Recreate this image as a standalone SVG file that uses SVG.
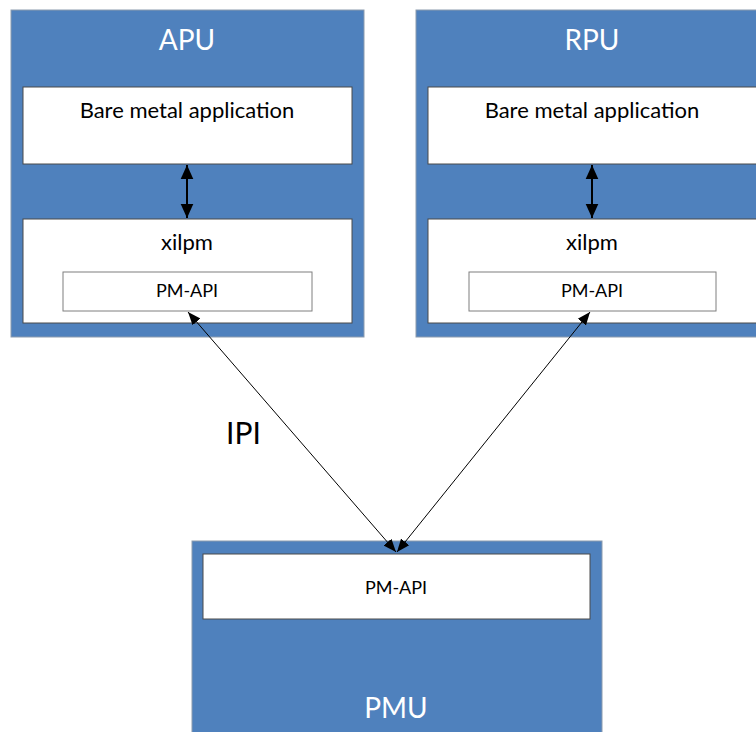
<svg xmlns="http://www.w3.org/2000/svg" width="756" height="732" viewBox="0 0 756 732">
<style>
.outer{fill:#4F81BD;stroke:#8C9BAE;stroke-width:1}
.inner{fill:#FFFFFF;stroke:#4A4A4A;stroke-width:1}
.api{fill:#FFFFFF;stroke:#7F7F7F;stroke-width:1}
.title{font-family:Lato,"Liberation Sans",sans-serif;font-size:28px;fill:#FFFFFF;text-anchor:middle}
.lbl{font-family:Lato,"Liberation Sans",sans-serif;font-size:22px;fill:#000000;text-anchor:middle}
.sm{font-family:Lato,"Liberation Sans",sans-serif;font-size:18px;fill:#000000;text-anchor:middle}
.ipi{font-family:Lato,"Liberation Sans",sans-serif;font-size:30px;fill:#000000}
.conn{stroke:#000000;stroke-width:1;fill:none}
.thick{stroke:#000000;stroke-width:2;fill:none}
</style>
<defs>
<marker id="ah" viewBox="0 0 10 10" refX="10" refY="5" markerWidth="13" markerHeight="13" markerUnits="userSpaceOnUse" orient="auto-start-reverse">
<path d="M0,1 L10,5 L0,9 z" fill="#000000"/>
</marker>
<marker id="ahb" viewBox="0 0 10 10" refX="10" refY="5" markerWidth="14" markerHeight="14" markerUnits="userSpaceOnUse" orient="auto-start-reverse">
<path d="M0,0.5 L10,5 L0,9.5 z" fill="#000000"/>
</marker>
</defs>
<g id="apu">
<rect class="outer" x="11" y="10" width="353" height="327"/>
<text class="title" x="187" y="50">APU</text>
<rect class="inner" x="23" y="87" width="329" height="77"/>
<text class="lbl" x="187" y="118">Bare metal application</text>
<rect class="inner" x="23" y="219" width="329" height="104"/>
<text class="lbl" x="187" y="250">xilpm</text>
<rect class="api" x="63" y="272" width="249" height="39"/>
<text class="sm" x="187" y="297">PM-API</text>
</g>
<g id="rpu">
<rect class="outer" x="416" y="10" width="353" height="327"/>
<text class="title" x="592" y="50">RPU</text>
<rect class="inner" x="428" y="87" width="329" height="77"/>
<text class="lbl" x="592" y="118">Bare metal application</text>
<rect class="inner" x="428" y="219" width="329" height="104"/>
<text class="lbl" x="592" y="250">xilpm</text>
<rect class="api" x="469" y="272" width="247" height="39"/>
<text class="sm" x="592" y="297">PM-API</text>
</g>
<g id="pmu">
<rect class="outer" x="192" y="541" width="410" height="200"/>
<rect class="inner" x="203" y="554" width="387" height="65"/>
<text class="sm" x="396" y="594">PM-API</text>
<text class="title" x="396" y="718">PMU</text>
</g>
<g id="ipi-label">
<text class="ipi" x="226" y="444">IPI</text>
</g>
<g id="connectors">
<line class="thick" x1="187" y1="165" x2="187" y2="218" marker-start="url(#ahb)" marker-end="url(#ahb)"/>
<line class="thick" x1="592" y1="165" x2="592" y2="218" marker-start="url(#ahb)" marker-end="url(#ahb)"/>
<line class="conn" x1="188" y1="312" x2="396" y2="552" marker-start="url(#ah)" marker-end="url(#ah)"/>
<line class="conn" x1="590" y1="312" x2="397" y2="552" marker-start="url(#ah)" marker-end="url(#ah)"/>
</g>
</svg>
